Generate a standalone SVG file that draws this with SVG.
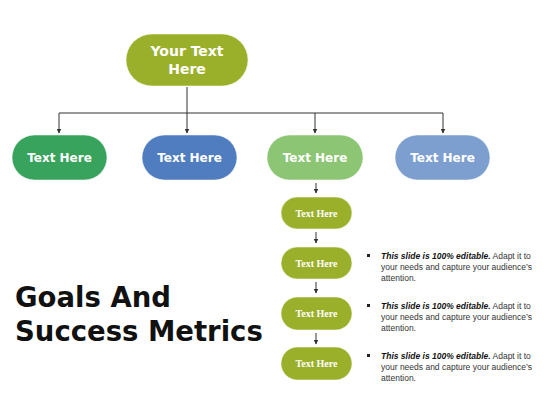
<svg xmlns="http://www.w3.org/2000/svg" width="560" height="420" viewBox="0 0 560 420">
<defs>
<marker id="arr" markerWidth="5" markerHeight="5" refX="4.5" refY="2.5" orient="auto" markerUnits="userSpaceOnUse">
<path d="M0,0 L5,2.5 L0,5 z" fill="#333"/>
</marker>
<style>
.big{font-family:"DejaVu Sans",Verdana,sans-serif;font-weight:bold;fill:#fff;text-anchor:middle}
.small{font-family:"Liberation Serif",serif;font-weight:bold;fill:#fff;text-anchor:middle;font-size:10px}
.ln{stroke:#333;stroke-width:1;fill:none}
.body{font-family:"Liberation Sans",Arial,sans-serif;font-size:8.5px;fill:#333}
.em{font-weight:bold;font-style:italic;fill:#111}
.title{font-family:"DejaVu Sans",Verdana,sans-serif;font-weight:bold;font-size:27.5px;fill:#111}
.nd{stroke:#fff;stroke-opacity:0.5;stroke-width:1}
</style>
</defs>
<rect width="560" height="420" fill="#fff"/>
<g id="connectors">
<path class="ln" d="M187,87 V113"/>
<path class="ln" d="M59,113 H443"/>
<path class="ln" d="M59,113 V133" marker-end="url(#arr)"/>
<path class="ln" d="M187,113 V133" marker-end="url(#arr)"/>
<path class="ln" d="M315,113 V133" marker-end="url(#arr)"/>
<path class="ln" d="M443,113 V133" marker-end="url(#arr)"/>
<path class="ln" d="M316,183 V193" marker-end="url(#arr)"/>
<path class="ln" d="M316,232 V243" marker-end="url(#arr)"/>
<path class="ln" d="M316,282 V293" marker-end="url(#arr)"/>
<path class="ln" d="M316,333 V344" marker-end="url(#arr)"/>
</g>
<g id="root">
<rect class="nd" x="126" y="34" width="122" height="52" rx="26" fill="#9bb02a"/>
<text class="big" font-size="14" x="187" y="56">Your Text</text>
<text class="big" font-size="14" x="187" y="74">Here</text>
</g>
<g id="n1">
<rect class="nd" x="12" y="135" width="95" height="45" rx="22.5" fill="#38a35d"/>
<text class="big" font-size="12" x="59.5" y="162">Text Here</text>
</g>
<g id="n2">
<rect class="nd" x="142" y="135" width="95" height="45" rx="22.5" fill="#4f7dbf"/>
<text class="big" font-size="12" x="189.5" y="162">Text Here</text>
</g>
<g id="n3">
<rect class="nd" x="267" y="135" width="96" height="45" rx="22.5" fill="#8cc574"/>
<text class="big" font-size="12" x="315" y="162">Text Here</text>
</g>
<g id="n4">
<rect class="nd" x="395" y="135" width="95" height="45" rx="22.5" fill="#7d9fd0"/>
<text class="big" font-size="12" x="442.5" y="162">Text Here</text>
</g>
<g id="c1">
<rect class="nd" x="281" y="197" width="71" height="32" rx="16" fill="#9bb02a"/>
<text class="small" x="316.5" y="216.5">Text Here</text>
</g>
<g id="c2">
<rect class="nd" x="281" y="247" width="71" height="32" rx="16" fill="#9bb02a"/>
<text class="small" x="316.5" y="266.5">Text Here</text>
</g>
<g id="c3">
<rect class="nd" x="281" y="297" width="71" height="33" rx="16.5" fill="#9bb02a"/>
<text class="small" x="316.5" y="317">Text Here</text>
</g>
<g id="c4">
<rect class="nd" x="281" y="347" width="71" height="33" rx="16.5" fill="#9bb02a"/>
<text class="small" x="316.5" y="367">Text Here</text>
</g>
<g id="notes">
<rect x="367" y="254" width="3" height="3" fill="#222"/>
<text class="body" x="381" y="259"><tspan class="em">This slide is 100% editable.</tspan> Adapt it to</text>
<text class="body" x="381" y="270">your needs and capture your audience’s</text>
<text class="body" x="381" y="281">attention.</text>
<rect x="367" y="304" width="3" height="3" fill="#222"/>
<text class="body" x="381" y="309"><tspan class="em">This slide is 100% editable.</tspan> Adapt it to</text>
<text class="body" x="381" y="320">your needs and capture your audience’s</text>
<text class="body" x="381" y="331">attention.</text>
<rect x="367" y="354" width="3" height="3" fill="#222"/>
<text class="body" x="381" y="359"><tspan class="em">This slide is 100% editable.</tspan> Adapt it to</text>
<text class="body" x="381" y="370">your needs and capture your audience’s</text>
<text class="body" x="381" y="381">attention.</text>
</g>
<g id="title">
<text class="title" x="15" y="307">Goals And</text>
<text class="title" x="15" y="341">Success Metrics</text>
</g>
</svg>
